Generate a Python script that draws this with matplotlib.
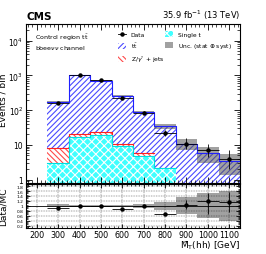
import numpy as np
import matplotlib
matplotlib.use("Agg")
import matplotlib.pyplot as plt
from matplotlib.patches import Patch
from matplotlib.lines import Line2D

edges = [250, 350, 450, 550, 650, 750, 850, 950, 1050, 1150]
centers = [300, 400, 500, 600, 700, 800, 900, 1000, 1100]

single_t = [3.0, 17.0, 19.0, 9.4, 4.9, 2.2, 0.0, 0.0, 0.0]
zjets = [5.4, 4.0, 4.0, 1.6, 0.9, 0.0, 0.0, 0.0, 0.0]
ttbar_total = [170, 1000, 700, 263, 88, 35, 11, 6.0, 3.5]
unc_rel = [0.06, 0.02, 0.02, 0.05, 0.08, 0.17, 0.35, 0.5, 0.6]

data = [160, 1000, 720, 230, 85, 22, 11, 7, 4]
data_err_lo = [13, 32, 27, 15, 9, 4.5, 3.3, 2.6, 2.0]
data_err_hi = [13, 32, 27, 15, 9, 5.5, 4.4, 3.8, 3.2]

ratio = [0.93, 1.0, 1.0, 0.89, 1.0, 0.66, 1.05, 1.19, 1.16]
ratio_err_lo = [0.03, 0.02, 0.02, 0.03, 0.05, 0.04, 0.19, 0.51, 0.41]
ratio_err_hi = [0.03, 0.02, 0.02, 0.03, 0.05, 0.04, 0.18, 0.31, 0.40]

plt.rcParams['hatch.linewidth'] = 0.8
fig = plt.figure(figsize=(2.66, 2.55), dpi=100)
ax = fig.add_axes([0.098, 0.278, 0.804, 0.624])
rax = fig.add_axes([0.098, 0.102, 0.804, 0.174], sharex=ax)

e = np.array(edges, dtype=float)
st = np.array(single_t)
zj = np.array(zjets)
tot = np.array(ttbar_total, dtype=float)
s1 = st
s2 = st + zj
s3 = tot

def stepfill(a, lo, hi, **kw):
    lo = np.append(lo, lo[-1]); hi = np.append(hi, hi[-1])
    a.fill_between(e, lo, hi, step='post', **kw)

floor = np.full(len(centers), 1e-3)
stepfill(ax, np.maximum(s2, floor), s3, facecolor='white', edgecolor='#4a4aff', hatch='//////', linewidth=0)
stepfill(ax, np.maximum(s1, floor), s2, facecolor='white', edgecolor='#ff4a4a', hatch='\\\\\\\\\\\\', linewidth=0)
stepfill(ax, floor, s1, facecolor='#40ffff', edgecolor='white', hatch='xxxx', linewidth=0)
ax.step(e, np.append(s3, s3[-1]), where='post', color='#2020ff', lw=0.8)
ax.step(e[:6], np.append(s2[:5], s2[4]), where='post', color='#ff2020', lw=0.8)
ax.step(e[:7], np.append(s1[:6], s1[5]), where='post', color='#00e0e0', lw=0.8)
unc = np.array(unc_rel)
stepfill(ax, tot * (1 - unc), tot * (1 + unc), facecolor='#555555', alpha=0.55, linewidth=0)

ax.errorbar(centers, data, yerr=[data_err_lo, data_err_hi], xerr=50, fmt='o', color='black',
            ms=2.2, lw=0.6, capsize=0)

ax.set_yscale('log')
ax.set_ylim(0.8, 3e4)
ax.set_xlim(150, 1150)
ax.set_yticks([1, 10, 100, 1000, 10000])
ax.set_yticklabels(['1', '10', '$10^2$', '$10^3$', '$10^4$'])
ax.set_ylabel('Events / bin', fontsize=6.5)
ax.yaxis.set_label_coords(-0.085, 0.53)
ax.tick_params(which='both', direction='in', top=True, right=True, labelsize=5.5, pad=2)
ax.tick_params(which='major', length=4, width=0.6)
ax.tick_params(which='minor', length=2, width=0.5)
ax.tick_params(axis='x', labelbottom=False)
ax.minorticks_on()
for sp in ax.spines.values():
    sp.set_linewidth(0.8)

fig.text(0.098, 0.915, 'CMS', fontsize=7.5, fontweight='bold', ha='left', va='bottom')
fig.text(0.902, 0.915, '35.9 fb$^{-1}$ (13 TeV)', fontsize=6, ha='right', va='bottom')
ax.text(0.04, 0.95, r'Control region t$\bar{\rm t}$', transform=ax.transAxes, fontsize=4.5, va='top')
ax.text(0.04, 0.88, r'bbee$\nu\nu$ channel', transform=ax.transAxes, fontsize=4.5, va='top')

handles1 = [Line2D([], [], color='black', marker='o', ms=2.2, lw=0.6),
            Patch(facecolor='white', edgecolor='#4a4aff', hatch='//////', lw=0),
            Patch(facecolor='white', edgecolor='#ff4a4a', hatch='\\\\\\\\\\\\', lw=0)]
labels1 = ['Data', r't$\bar{\rm t}$', r'Z/$\gamma^{*}$ + jets']
leg1 = ax.legend(handles1, labels1, loc='upper left', bbox_to_anchor=(0.42, 0.97), fontsize=4.3,
                 frameon=False, handlelength=1.3, handleheight=1.2, labelspacing=0.6, borderaxespad=0)
ax.add_artist(leg1)
handles2 = [Patch(facecolor='#40ffff', edgecolor='white', hatch='xxxx', lw=0),
            Patch(facecolor='#555555', alpha=0.55, lw=0)]
labels2 = ['Single t', r'Unc. (stat $\oplus$ syst)']
ax.legend(handles2, labels2, loc='upper left', bbox_to_anchor=(0.64, 0.97), fontsize=4.3,
          frameon=False, handlelength=1.3, handleheight=1.2, labelspacing=0.6, borderaxespad=0)

# ratio panel
one = np.ones(len(centers))
stepfill(rax, one - unc, one + unc, facecolor='#555555', alpha=0.55, linewidth=0)
rax.axhline(1, color='black', lw=0.6)
for yv in [0.2, 0.4, 0.6, 0.8, 1.2, 1.4, 1.6, 1.8]:
    rax.axhline(yv, color='black', lw=0.3, ls=(0, (2, 2)))
for xv in range(200, 1150, 100):
    rax.axvline(xv, color='black', lw=0.3, ls=(0, (2, 2)))
rax.errorbar(centers, ratio, yerr=[ratio_err_lo, ratio_err_hi], xerr=50, fmt='o', color='black',
             ms=2.2, lw=0.6, capsize=0)
rax.set_ylim(0.1, 1.9)
rax.set_yticks([0.2, 0.4, 0.6, 0.8, 1.0, 1.2, 1.4, 1.6, 1.8])
rax.set_yticklabels(['0.2', '0.4', '0.6', '0.8', '1', '1.2', '1.4', '1.6', '1.8'])
rax.set_xticks(range(200, 1150, 100))
rax.set_ylabel('Data/MC', fontsize=6.5)
rax.yaxis.set_label_coords(-0.085, 0.5)
rax.tick_params(which='both', direction='in', top=True, right=True, pad=2)
rax.tick_params(axis='y', labelsize=3.2)
rax.tick_params(axis='x', labelsize=5.8, pad=1.2)
rax.tick_params(which='major', length=3, width=0.6)
rax.tick_params(which='minor', length=1.5, width=0.5)
rax.minorticks_on()
for sp in rax.spines.values():
    sp.set_linewidth(0.8)

fig.text(0.902, 0.012, 'M\u0303$_{\\rm T}$(hh) [GeV]', fontsize=6.5, ha='right', va='bottom')

fig.savefig('out.png', dpi=100)
